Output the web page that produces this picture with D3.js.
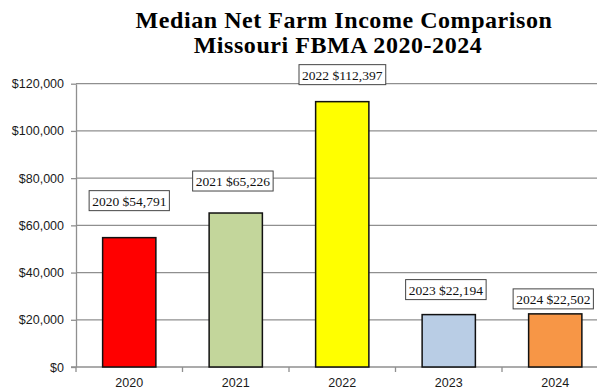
<!DOCTYPE html>
<html>
<head>
<meta charset="utf-8">
<script src="https://cdn.jsdelivr.net/npm/d3@7"></script>
<style>
  html, body { margin: 0; padding: 0; background: #fff; }
  svg { display: block; }
</style>
</head>
<body>
<svg id="chart" width="597" height="389"></svg>
<script>
// Median net farm income by year (Missouri FBMA)
const years = ["2020", "2021", "2022", "2023", "2024"];
const incomes = [54791, 65226, 112397, 22194, 22502];
const barColors = ["#FF0000", "#C3D69B", "#FFFF00", "#B9CDE5", "#F79646"];
const yTicks = [0, 20000, 40000, 60000, 80000, 100000, 120000];
const titleLines = ["Median Net Farm Income Comparison", "Missouri FBMA 2020-2024"];

// Hand-placed callouts: vertical lift above bar top and horizontal nudge
const calloutLift = [27, 22, 17, 15, 5];
const calloutNudge = [0, -3, 0, -3, -2];
// Title line centres
const titleCentre = [344, 338];

const W = 597, H = 389;
const plot = { left: 76, right: 608.5, top: 83.7, bottom: 367 };
const axisFont = "'Liberation Sans', Arial, sans-serif";
const serifFont = "'Liberation Serif', 'Times New Roman', serif";

const svg = d3.select("#chart");

const x = d3.scaleBand()
  .domain(years)
  .range([plot.left, plot.right])
  .paddingInner(0.5)
  .paddingOuter(0.25);

const y = d3.scaleLinear()
  .domain([0, 120000])
  .range([plot.bottom, plot.top]);

const fmt = d3.format("$,");

// Horizontal gridlines
svg.append("g")
  .selectAll("line")
  .data(yTicks.filter(d => d > 0))
  .join("line")
  .attr("x1", plot.left)
  .attr("x2", plot.right)
  .attr("y1", d => y(d))
  .attr("y2", d => y(d))
  .attr("stroke", "#8f8f8f")
  .attr("stroke-width", 1.3);

// Y axis
const yAxis = svg.append("g")
  .attr("transform", `translate(${plot.left},0)`)
  .call(d3.axisLeft(y).tickValues(yTicks).tickFormat(fmt).tickSize(5).tickSizeOuter(0));
yAxis.select(".domain").attr("stroke", "#8f8f8f").attr("stroke-width", 1.3);
yAxis.selectAll(".tick line").attr("stroke", "#8f8f8f").attr("stroke-width", 1.3);
yAxis.selectAll(".tick text")
  .attr("x", -12)
  .attr("font-family", axisFont)
  .attr("font-size", 12.5)
  .attr("fill", "#1a1a1a");

// X axis: tick marks sit at band boundaries, labels at band centres
const bounds = d3.range(years.length + 1).map(i => plot.left + i * x.step());
const xg = svg.append("g");
xg.append("line")
  .attr("x1", plot.left - 5).attr("x2", plot.right)
  .attr("y1", plot.bottom).attr("y2", plot.bottom)
  .attr("stroke", "#8f8f8f").attr("stroke-width", 1.3);
xg.selectAll("line.bt")
  .data(bounds)
  .join("line")
  .attr("class", "bt")
  .attr("x1", d => d).attr("x2", d => d)
  .attr("y1", plot.bottom).attr("y2", plot.bottom + 5)
  .attr("stroke", "#8f8f8f").attr("stroke-width", 1.3);
xg.selectAll("text")
  .data(years)
  .join("text")
  .attr("x", d => x(d) + x.bandwidth() / 2)
  .attr("y", 387)
  .attr("text-anchor", "middle")
  .attr("font-family", axisFont)
  .attr("font-size", 12.5)
  .attr("fill", "#1a1a1a")
  .text(d => d);

// Bars
svg.append("g")
  .selectAll("rect")
  .data(years)
  .join("rect")
  .attr("x", d => x(d))
  .attr("width", x.bandwidth())
  .attr("y", (d, i) => y(incomes[i]))
  .attr("height", (d, i) => plot.bottom - y(incomes[i]))
  .attr("fill", (d, i) => barColors[i])
  .attr("stroke", "#111")
  .attr("stroke-width", 1.5);

// Value callouts
const callouts = svg.append("g")
  .selectAll("g")
  .data(years)
  .join("g")
  .attr("transform", (d, i) => {
    const cx = x(d) + x.bandwidth() / 2 + calloutNudge[i];
    const cy = y(incomes[i]) - calloutLift[i];
    return `translate(${cx},${cy})`;
  });

callouts.append("text")
  .attr("text-anchor", "middle")
  .attr("y", -5)
  .attr("font-family", serifFont)
  .attr("font-size", 13.5)
  .attr("fill", "#111")
  .text((d, i) => `${d} ${fmt(incomes[i])}`);

callouts.each(function () {
  const g = d3.select(this);
  const bb = g.select("text").node().getBBox();
  g.insert("rect", "text")
    .attr("x", bb.x - 3)
    .attr("y", -20)
    .attr("width", bb.width + 6)
    .attr("height", 20)
    .attr("fill", "#fff")
    .attr("stroke", "#444")
    .attr("stroke-width", 1);
});

// Title
svg.append("g")
  .selectAll("text")
  .data(titleLines)
  .join("text")
  .attr("x", (d, i) => titleCentre[i])
  .attr("y", (d, i) => 28 + i * 25)
  .attr("text-anchor", "middle")
  .attr("font-family", serifFont)
  .attr("font-weight", "bold")
  .attr("font-size", 24)
  .attr("letter-spacing", 0.55)
  .attr("fill", "#000")
  .text(d => d);
</script>
</body>
</html>
